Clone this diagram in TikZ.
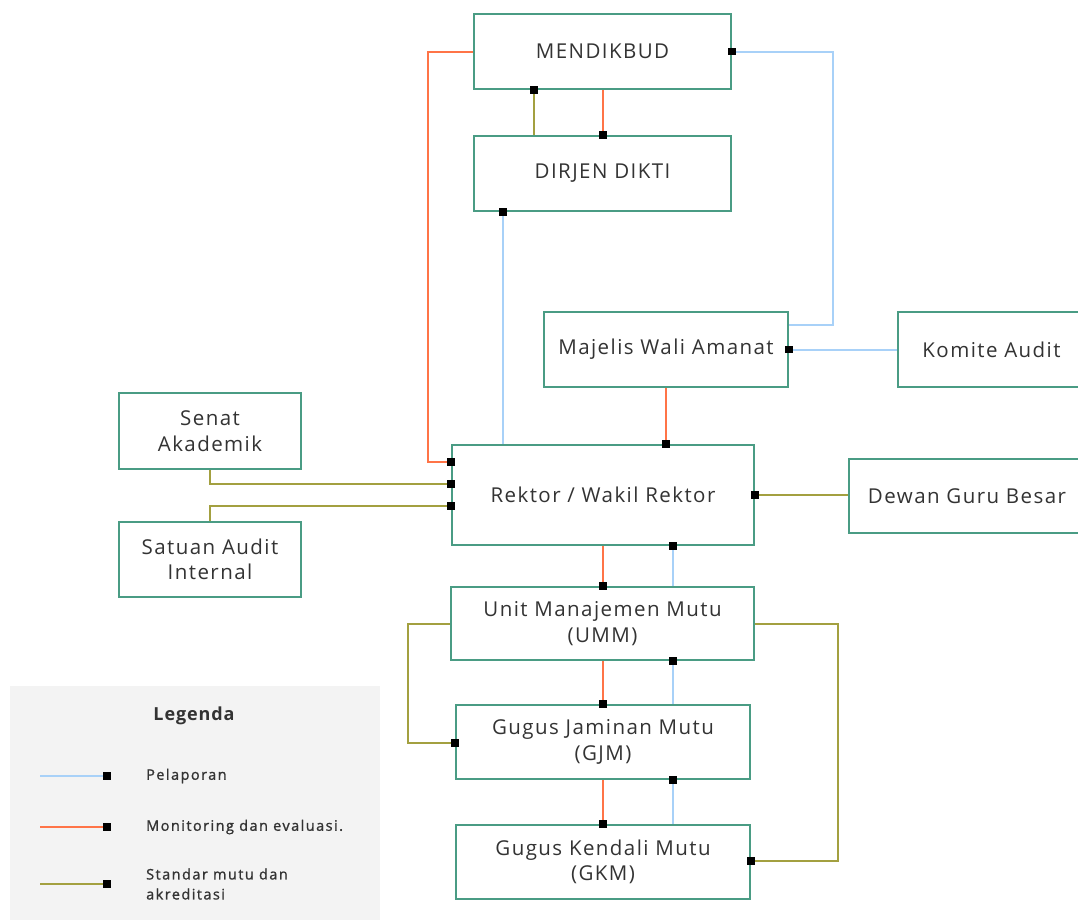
\documentclass[tikz,border=0pt]{standalone}
\usepackage{fontspec}
\setmainfont{Open Sans}[LetterSpace=7]
\newfontfamily\legfont{Open Sans}[LetterSpace=10, FakeBold=1.2]
\newfontfamily\legtitle{Open Sans}[LetterSpace=5, BoldFont={Open Sans Bold}]
\usetikzlibrary{arrows.meta}
\definecolor{boxc}{HTML}{4A9C84}
\definecolor{orng}{HTML}{FF7447}
\definecolor{blu}{HTML}{A8D1F8}
\definecolor{olv}{HTML}{A3A040}
\definecolor{txt}{HTML}{333333}
\definecolor{legbg}{HTML}{F3F3F3}
\tikzset{
  box/.style={draw=boxc, line width=2pt, fill=white, inner sep=0pt, text=txt,
    font=\fontsize{20.5}{25.5}\selectfont, align=center},
  conn/.style={line width=2pt, -{Square[length=7.5pt,width=7.5pt,color=black,fill=black]}, shorten >=-3.75pt},
  legtext/.style={anchor=west, text=txt, font=\legfont\fontsize{14.5}{20}\selectfont, align=left, inner sep=0pt},
}
\begin{document}
\begin{tikzpicture}[x=1pt,y=-1pt]
\useasboundingbox (0,0) rectangle (1078,919);
% legend background
\fill[legbg] (10,686) rectangle (380,925);
% boxes
\node[box, minimum width=257pt, minimum height=75pt] (M) at (602.5,51.5) {MENDIKBUD};
\node[box, minimum width=257pt, minimum height=75pt] (D) at (602.5,173.5) {DIRJEN DIKTI};
\node[box, minimum width=244pt, minimum height=75pt] (Maj) at (666,349.5) {Majelis Wali Amanat};
\node[box, minimum width=187pt, minimum height=75pt] (K) at (991.5,349.5) {Komite Audit};
\node[box, minimum width=302pt, minimum height=100pt] (R) at (603,495) {Rektor / Wakil Rektor};
\node[box, minimum width=236pt, minimum height=74pt] (Dw) at (967,496) {Dewan Guru Besar};
\node[box, minimum width=182pt, minimum height=76pt] (S) at (210,431) {Senat\\Akademik};
\node[box, minimum width=182pt, minimum height=75pt] (Sa) at (210,559.5) {Satuan Audit\\Internal};
\node[box, minimum width=303pt, minimum height=73pt] (U) at (602.5,623.5) {Unit Manajemen Mutu\\(UMM)};
\node[box, minimum width=294pt, minimum height=74pt] (G) at (603,742) {Gugus Jaminan Mutu\\(GJM)};
\node[box, minimum width=294pt, minimum height=74pt] (GK) at (603,862) {Gugus Kendali Mutu\\(GKM)};
% connectors
\draw[conn, olv] (534,0 |- D.north) -- (534,0 |- M.south);
\draw[conn, orng] (603,0 |- M.south) -- (603,0 |- D.north);
\draw[conn, orng] (M.west) -| (428,462) -- (R.west |- 0,462);
\draw[conn, blu] (Maj.east |- 0,325) -| (833,51.5) -- (M.east);
\draw[conn, blu] (503,0 |- R.north) -- (503,0 |- D.south);
\draw[conn, blu] (K.west) -- (Maj.east);
\draw[conn, orng] (Maj.south) -- (Maj.south |- R.north);
\draw[conn, olv] (S.south) -- (S.south |- 0,484) -- (R.west |- 0,484);
\draw[conn, olv] (Sa.north) -- (Sa.north |- 0,506) -- (R.west |- 0,506);
\draw[conn, olv] (Dw.west |- 0,495) -- (R.east |- 0,495);
\draw[conn, orng] (603,0 |- R.south) -- (603,0 |- U.north);
\draw[conn, blu] (673,0 |- U.north) -- (673,0 |- R.south);
\draw[conn, orng] (603,0 |- U.south) -- (603,0 |- G.north);
\draw[conn, blu] (673,0 |- G.north) -- (673,0 |- U.south);
\draw[conn, orng] (603,0 |- G.south) -- (603,0 |- GK.north);
\draw[conn, blu] (673,0 |- GK.north) -- (673,0 |- G.south);
\draw[conn, olv] (U.west |- 0,624) -| (408,743) -- (G.west |- 0,743);
\draw[conn, olv] (U.east |- 0,624) -| (838,861) -- (GK.east |- 0,861);
% legend
\node[text=txt, font=\legtitle\fontsize{18}{22}\selectfont\bfseries, inner sep=0pt] (LT) at (194,716) {Legenda};
\coordinate (L1a) at (40,776); \coordinate (L1b) at (107,776);
\coordinate (L2a) at (40,827); \coordinate (L2b) at (107,827);
\coordinate (L3a) at (40,884); \coordinate (L3b) at (107,884);
\draw[conn, blu] (L1a) -- (L1b);
\draw[conn, orng] (L2a) -- (L2b);
\draw[conn, olv] (L3a) -- (L3b);
\node[legtext] (T1) at (146,776) {Pelaporan};
\node[legtext] (T2) at (146,827) {Monitoring dan evaluasi.};
\node[legtext] (T3) at (146,884) {Standar mutu dan\\akreditasi};
\end{tikzpicture}
\end{document}
